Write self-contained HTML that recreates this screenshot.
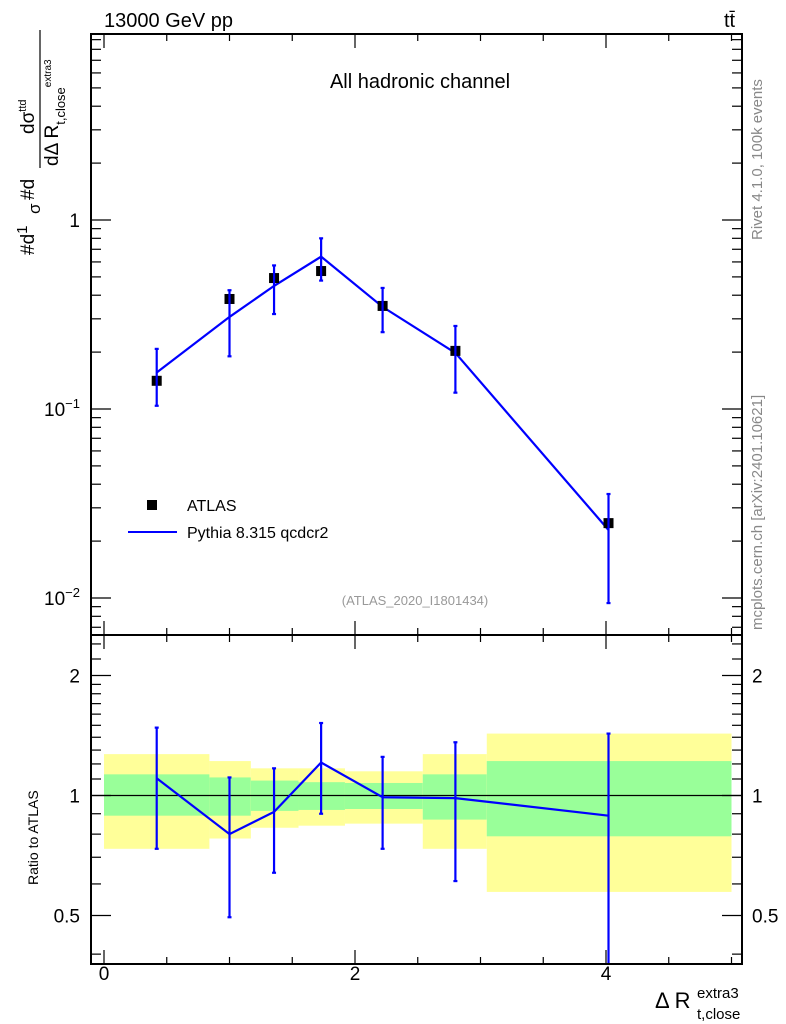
<!DOCTYPE html>
<html><head><meta charset="utf-8"><style>
body{margin:0;background:#fff}
svg{display:block;font-family:"Liberation Sans",sans-serif}
</style></head><body>
<svg id="c" width="786" height="1024" viewBox="0 0 786 1024" xmlns="http://www.w3.org/2000/svg">
<g id="bands"></g>
<g id="marks"></g>
<g id="axes"></g>
<text x="104" y="27" font-size="20">13000 GeV pp</text>
<text x="724" y="27" font-size="20">tt̄</text>
<text x="420" y="88" font-size="20" text-anchor="middle">All hadronic channel</text>
<text x="415" y="605" font-size="13" fill="#999" text-anchor="middle">(ATLAS_2020_I1801434)</text>
<rect x="147" y="500" width="10" height="10" fill="#000"/>
<text x="187" y="511" font-size="16">ATLAS</text>
<line x1="128" y1="532" x2="177" y2="532" stroke="#0000ff" stroke-width="2"/>
<text x="187" y="538" font-size="16">Pythia 8.315 qcdcr2</text>
<text transform="translate(762,240) rotate(-90)" font-size="15" fill="#888">Rivet 4.1.0,  100k events</text>
<text transform="translate(762,630) rotate(-90)" font-size="15" fill="#888">mcplots.cern.ch [arXiv:2401.10621]</text>
<text transform="translate(38,885) rotate(-90)" font-size="14">Ratio to ATLAS</text>
<g font-size="19">
<text transform="translate(34,255) rotate(-90)">#d<tspan dy="-7" font-size="15">1</tspan></text>
<text transform="translate(40,214) rotate(-90)" font-size="17">σ</text>
<text transform="translate(34,200) rotate(-90)">#d</text>
<line x1="40" y1="168" x2="40" y2="30" stroke="#000" stroke-width="1.2"/>
<text transform="translate(34,134) rotate(-90)">dσ<tspan dy="-8" font-size="11">ttd</tspan></text>
<text transform="translate(58,166) rotate(-90)">dΔ R<tspan dy="7" font-size="13">t,close</tspan><tspan dy="-14" font-size="10">extra3</tspan></text>
</g>
<g>
<text x="655" y="1008" font-size="22">Δ R</text>
<text x="697" y="998" font-size="15">extra3</text>
<text x="697" y="1019" font-size="15">t,close</text>
</g>
</svg>
<script>
const xPoints=[0.42,1.0,1.355,1.73,2.22,2.80,4.02];
const dataVals=[0.141,0.382,0.493,0.537,0.351,0.203,0.0249];
const mcVals=[0.156,0.307,0.448,0.64,0.347,0.198,0.0229];
const mcUp=[0.208,0.425,0.575,0.80,0.437,0.275,0.0355];
const mcDown=[0.104,0.19,0.318,0.478,0.255,0.122,0.0094];
const binEdges=[0,0.84,1.17,1.55,1.92,2.54,3.05,5.0];
const yellowHi=[1.27,1.22,1.17,1.17,1.15,1.27,1.43];
const yellowLo=[0.735,0.78,0.83,0.84,0.85,0.735,0.573];
const greenHi=[1.13,1.11,1.09,1.08,1.075,1.13,1.22];
const greenLo=[0.89,0.89,0.915,0.92,0.925,0.87,0.79];
const ratioMc=[1.105,0.80,0.91,1.21,0.99,0.985,0.89];
const ratioUp=[1.48,1.11,1.17,1.52,1.25,1.36,1.43];
const ratioDown=[0.735,0.495,0.64,0.90,0.735,0.61,0.35];
const xTicks=[0,2,4];
const mainTicks=[1,0.1,0.01];
const mainTickLabels=["1","10","10"];
const ratioTicks=[0.5,1,2];
const ratioTickLabels=["0.5","1","2"];

const L=91,R=742,T=34,M=635,B=964;
const X=v=>104+125.5*v;
const YM=v=>220-189*Math.log10(v);
const YR=v=>795.5-120*Math.log2(v);
const NS="http://www.w3.org/2000/svg";
function mk(p,tag,at){const e=document.createElementNS(NS,tag);for(const k in at)e.setAttribute(k,at[k]);p.appendChild(e);return e;}
const bands=document.getElementById('bands'),marks=document.getElementById('marks'),axes=document.getElementById('axes');
for(let i=0;i<yellowHi.length;i++){
 const x1=X(binEdges[i]),x2=X(binEdges[i+1]);
 let e=mk(bands,'rect',{x:x1,y:YR(yellowHi[i]),width:x2-x1,height:YR(yellowLo[i])-YR(yellowHi[i]),fill:'#ffff99'});
 
 
 e=mk(bands,'rect',{x:x1,y:YR(greenHi[i]),width:x2-x1,height:YR(greenLo[i])-YR(greenHi[i]),fill:'#99ff99'});
 
 
}
let l=mk(marks,'line',{x1:L,x2:R,y1:YR(1),y2:YR(1),stroke:'#000','stroke-width':1.2});


let pm=mk(marks,'polyline',{points:xPoints.map((x,i)=>X(x)+','+YM(mcVals[i])).join(' '),fill:'none',stroke:'#0000ff','stroke-width':2.2});


let pr=mk(marks,'polyline',{points:xPoints.map((x,i)=>X(x)+','+YR(ratioMc[i])).join(' '),fill:'none',stroke:'#0000ff','stroke-width':2.2});


function errbar(x,y1,y2,nm){
 const g=mk(marks,'g',{stroke:'#0000ff','stroke-width':2.2});
 
 
 mk(g,'line',{x1:x,x2:x,y1:y1,y2:Math.min(y2,B)});
 mk(g,'line',{x1:x-2,x2:x+2,y1:y1,y2:y1});
 if(y2<B)mk(g,'line',{x1:x-2,x2:x+2,y1:y2,y2:y2});
}
xPoints.forEach((x,i)=>{
 const r=mk(marks,'rect',{x:X(x)-5,y:YM(dataVals[i])-5,width:10,height:10,fill:'#000'});
 
 
 errbar(X(x),YM(mcUp[i]),YM(mcDown[i]),'mc-error-bar');
 errbar(X(x),YR(ratioUp[i]),YR(ratioDown[i]),'ratio-error-bar');
});
[[T,M],[M,B]].forEach(([a,b])=>mk(axes,'rect',{x:L,y:a,width:R-L,height:b-a,fill:'none',stroke:'#000','stroke-width':2}));
function tick(x1,y1,x2,y2){mk(axes,'line',{x1:x1,y1:y1,x2:x2,y2:y2,stroke:'#000','stroke-width':1.2});}
for(let k=0;k<=10;k++){const v=k*0.5;const x=X(v);const mj=(k%4===0);const len=mj?14:7;
 tick(x,B,x,B-len);tick(x,M,x,M-len);tick(x,M,x,M+len);tick(x,T,x,T+len);}
xTicks.forEach(v=>{const t=mk(axes,'text',{x:X(v),y:980,'font-size':19,'text-anchor':'middle'});t.textContent=v;
 
 });
for(let d=-3;d<=0;d++)for(let m=1;m<10;m++){const v=m*Math.pow(10,d);const y=YM(v);if(y<T||y>M)continue;const len=m==1?20:10;tick(L,y,L+len,y);tick(R,y,R-len,y);}
mainTicks.forEach((v,i)=>{const t=mk(axes,'text',{x:80,y:YM(v)+7,'font-size':19,'text-anchor':'end'});t.textContent=mainTickLabels[i];
 if(v!==1){const s=mk(t,'tspan',{dy:-8,'font-size':13});s.textContent=String(Math.round(Math.log10(v))).replace('-','−');}
 
 });
[0.4,0.5,0.6,0.7,0.8,0.9,1,1.1,1.2,1.3,1.4,1.5,1.6,1.7,1.8,1.9,2,2.2,2.4].forEach(v=>{const y=YR(v);if(y<M||y>B)return;const mj=(v==0.5||v==1||v==2);const len=mj?20:10;tick(L,y,L+len,y);tick(R,y,R-len,y);});
ratioTicks.forEach((v,i)=>{[[80,'end'],[752,'start']].forEach(([x,a])=>{const t=mk(axes,'text',{x:x,y:YR(v)+7,'font-size':19,'text-anchor':a});t.textContent=ratioTickLabels[i];
 
 });});
</script>
</body></html>
